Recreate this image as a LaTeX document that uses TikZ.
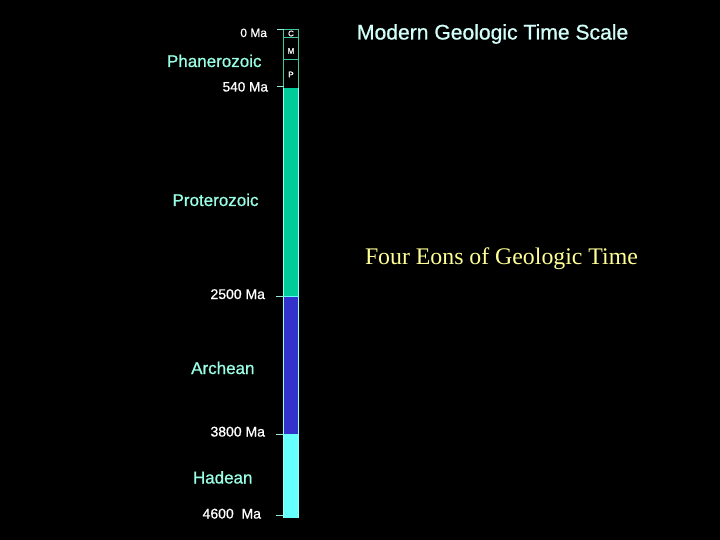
\documentclass[tikz,border=0pt]{standalone}
\usepackage{fontspec}
\setmainfont{Liberation Serif}
\setsansfont{Liberation Sans}[FakeBold=0.8]
\newfontfamily\heavysans{Liberation Sans}[FakeBold=0.8]
\usepackage{xcolor}

\begin{document}
\begin{tikzpicture}[x=1pt, y=-1pt,
  every node/.style={inner sep=0pt, outer sep=0pt},
  eon/.style={anchor=base east, text=eonText, font=\heavysans\fontsize{17}{17}\selectfont},
  age/.style={anchor=base east, text=white, font=\heavysans\fontsize{14}{14}\selectfont},
  era/.style={text=white, font=\heavysans\fontsize{8}{8}\selectfont},
  tick/.style={draw=tickLine, line width=0.9pt}]
  \definecolor{eonText}{RGB}{153,255,230}
  \definecolor{titleText}{RGB}{210,255,250}
  \definecolor{subText}{RGB}{255,255,150}
  \definecolor{protero}{RGB}{0,204,153}
  \definecolor{archeo}{RGB}{51,51,204}
  \definecolor{hadeo}{RGB}{102,255,255}
  \definecolor{tickLine}{RGB}{150,235,215}
  \definecolor{boxLine}{RGB}{60,200,160}

  \fill[black] (0,0) rectangle (720,540);
  \useasboundingbox (0,0) rectangle (720,540);

  % column
  \draw[boxLine, line width=0.8pt] (283.5,29.5) rectangle (298.5,88);
  \draw[boxLine, line width=0.8pt] (283.5,37) -- (298.5,37);
  \draw[boxLine, line width=0.8pt] (283.5,59) -- (298.5,59);
  \fill[protero] (283,88) rectangle (299,296);
  \fill[archeo] (283,296) rectangle (299,433.5);
  \fill[hadeo] (283,433.5) rectangle (299,517.5);
  \draw[hadeo!70!white, line width=0.6pt] (283.3,88) -- (283.3,517.5);
  \draw[hadeo!70!white, line width=0.6pt] (298.7,88) -- (298.7,517.5);
  \draw[hadeo, line width=0.8pt] (283,296) -- (299,296);

  \node[era] (c) at (291,33.5) {C};
  \node[era] (m) at (291,51) {M};
  \node[era] (p) at (291,74.5) {P};

  % ticks
  \draw[tick] (277,29.5) -- (283.5,29.5);
  \draw[tick] (277,86.5) -- (283.5,86.5);
  \draw[tick] (276,296) -- (283,296);
  \draw[tick] (276,434) -- (283,434);
  \draw[tick] (276,515.5) -- (283,515.5);

  % ages
  \node[age, font=\heavysans\fontsize{12}{12}\selectfont] (ma0) at (267,37) {0 Ma};
  \node[age, font=\heavysans\fontsize{13.6}{14}\selectfont] (ma540) at (268,91.5) {540 Ma};
  \node[age] (ma2500) at (265,299) {2500 Ma};
  \node[age] (ma3800) at (265,436.5) {3800 Ma};
  \node[age] (ma4600) at (261,518.5) {4600\ \ Ma};

  % eons
  \node[eon] (phan) at (261.5,67) {Phanerozoic};
  \node[eon] (prot) at (258.5,206) {Proterozoic};
  \node[eon] (arch) at (254.5,374) {Archean};
  \node[eon] (hade) at (252.5,483.5) {Hadean};

  % titles
  \node[anchor=base west, text=titleText, font=\heavysans\fontsize{21.1}{22}\selectfont] (title) at (357,39.5) {Modern Geologic Time Scale};
  \node[anchor=base west, text=subText, font=\fontsize{23.8}{24}\selectfont] (sub) at (365,264) {Four Eons of Geologic Time};
\end{tikzpicture}
\end{document}
